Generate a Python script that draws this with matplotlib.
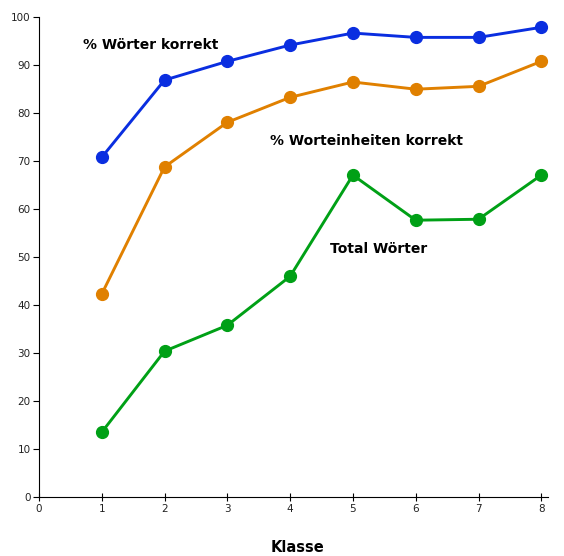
import matplotlib
matplotlib.use('Agg')
import matplotlib.pyplot as plt

klasse = [1, 2, 3, 4, 5, 6, 7, 8]
woerter_korrekt = [70.8, 86.9, 90.8, 94.2, 96.7, 95.8, 95.8, 97.9]
einheiten_korrekt = [42.3, 68.8, 78.1, 83.3, 86.5, 85.0, 85.6, 90.8]
total_woerter = [13.5, 30.4, 35.8, 46.0, 67.1, 57.7, 57.9, 67.1]

fig = plt.figure(figsize=(5.64, 5.56), dpi=100)
ax = fig.add_axes([0.069, 0.106, 0.903, 0.863])

ax.plot(klasse, woerter_korrekt, color='#0a2ee0', lw=2.1, marker='o', ms=8.5)
ax.plot(klasse, einheiten_korrekt, color='#e08000', lw=2.1, marker='o', ms=8.5)
ax.plot(klasse, total_woerter, color='#00a016', lw=2.1, marker='o', ms=8.5)

lab = dict(fontsize=10, fontweight='bold', va='center', ha='left')
ax.text(0.70, 94.2, '% Wörter korrekt', **lab)
ax.text(3.68, 74.2, '% Worteinheiten korrekt', **lab)
ax.text(4.64, 51.7, 'Total Wörter', **lab)

ax.set_xlim(0, 8.11)
ax.set_ylim(0, 100)
ax.set_xticks(range(0, 9))
ax.set_yticks(range(0, 101, 10))
ax.spines['top'].set_visible(False)
ax.spines['right'].set_visible(False)
ax.tick_params(axis='x', direction='inout', length=6, labelsize=7.5, pad=2, labelcolor='#222222')
ax.tick_params(axis='y', direction='out', length=4, labelsize=7.5, pad=2, labelcolor='#222222')
fig.text(297 / 564, 1 - 548 / 556, 'Klasse', fontsize=10.5, fontweight='bold',
         ha='center', va='center')

fig.savefig('out.png', dpi=100)
